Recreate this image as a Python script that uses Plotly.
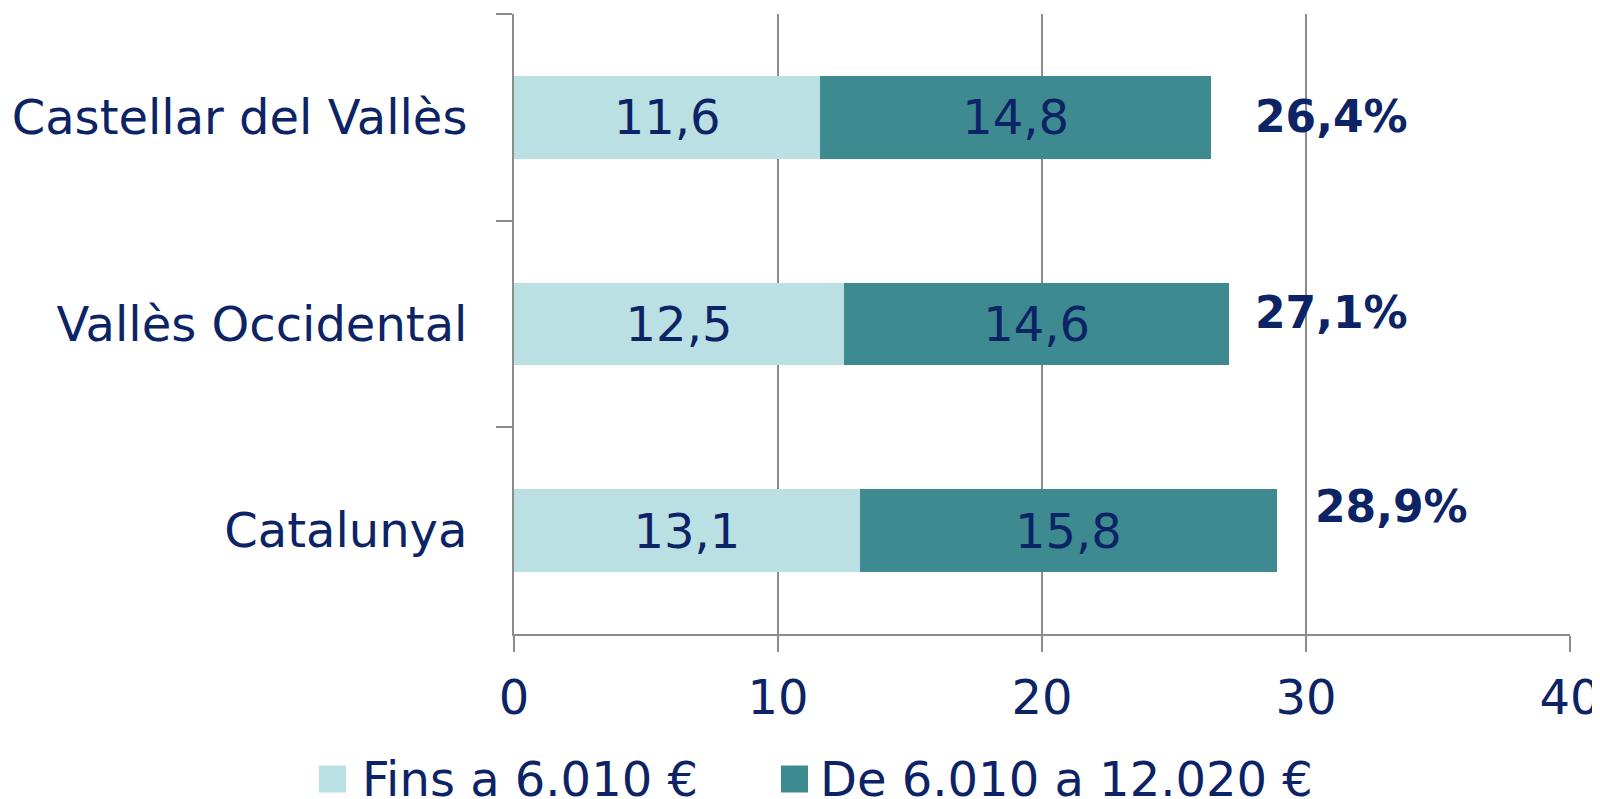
import plotly.graph_objects as go

categories = ["Castellar del Vallès", "Vallès Occidental", "Catalunya"]
fins_6010 = [11.6, 12.5, 13.1]
de_6010_12020 = [14.8, 14.6, 15.8]
series_names = ["Fins a 6.010 €", "De 6.010 a 12.020 €"]
x_ticks = [0, 10, 20, 30, 40]

totals = [a + b for a, b in zip(fins_6010, de_6010_12020)]
total_labels = [f"{t:.1f}".replace(".", ",") + "%" for t in totals]
# label offsets in pixels (style only)
label_xshift = [42, 24, 36]
label_yshift = [1, 12, 24]

NAVY = "#0C2466"
LIGHT = "#BBE0E3"
DARK = "#3E8A91"
GRID = "#8C8C8C"
FONT = "DejaVu Sans, Verdana, sans-serif"
colors = [LIGHT, DARK]

W, H = 1600, 799
ML, MR, MT, MB = 506, 38, 6, 173
PW, PH = W - ML - MR, H - MT - MB

def px_x(fx):
    return (fx - ML) / PW

def px_y(fy):
    return (H - MB - fy) / PH

fig = go.Figure()
for name, vals, col in zip(series_names, [fins_6010, de_6010_12020], colors):
    fig.add_trace(go.Bar(
        y=categories, x=vals, name=name, orientation="h",
        marker=dict(color=col, line=dict(width=0)),
        texttemplate="%{x:.1f}", textposition="inside", insidetextanchor="middle",
        textfont=dict(family=FONT, size=48, color=NAVY),
        constraintext="none", showlegend=False,
    ))

for cat, t, lab, xs, ys in zip(categories, totals, total_labels, label_xshift, label_yshift):
    fig.add_annotation(x=t, y=cat, text=f"<b>{lab}</b>", showarrow=False,
                       xanchor="left", yanchor="middle", xshift=xs, yshift=ys,
                       font=dict(family=FONT, size=44, color=NAVY))

# legend (drawn manually to match the large square keys)
legend_square_x = [311, 773]
legend_text_x = [352, 810]
sq = 27
legend_cy = 771
for name, col, sx, tx in zip(series_names, colors, legend_square_x, legend_text_x):
    fig.add_shape(type="rect", xref="paper", yref="paper",
                  x0=px_x(sx), x1=px_x(sx + sq), y0=px_y(legend_cy + sq / 2), y1=px_y(legend_cy - sq / 2),
                  fillcolor=col, line=dict(width=0))
    fig.add_annotation(xref="paper", yref="paper", x=px_x(tx), y=px_y(legend_cy),
                       text=name, showarrow=False, xanchor="left", yanchor="middle",
                       font=dict(family=FONT, size=48, color=NAVY))

fig.update_layout(
    barmode="stack", bargap=0.6,
    separators=",.",
    width=W, height=H,
    paper_bgcolor="white", plot_bgcolor="white",
    margin=dict(l=ML, r=MR, t=MT, b=MB, autoexpand=False),
    font=dict(family=FONT, size=48, color=NAVY),
    showlegend=False,
    xaxis=dict(range=[0, 40], tickvals=x_ticks, showgrid=True, gridcolor=GRID, gridwidth=1.5,
               showline=True, linecolor=GRID, linewidth=2, ticks="outside", ticklen=16,
               tickcolor=GRID, tickwidth=1.5, zeroline=False, ticklabelstandoff=4,
               tickfont=dict(family=FONT, size=48, color=NAVY)),
    yaxis=dict(autorange="reversed", showline=True, linecolor=GRID, linewidth=2,
               ticks="outside", ticklen=16, tickcolor=GRID, tickwidth=1.5, tickson="boundaries",
               showgrid=False, ticklabelstandoff=35,
               tickfont=dict(family=FONT, size=48, color=NAVY)),
)

fig.write_html("out.html")
